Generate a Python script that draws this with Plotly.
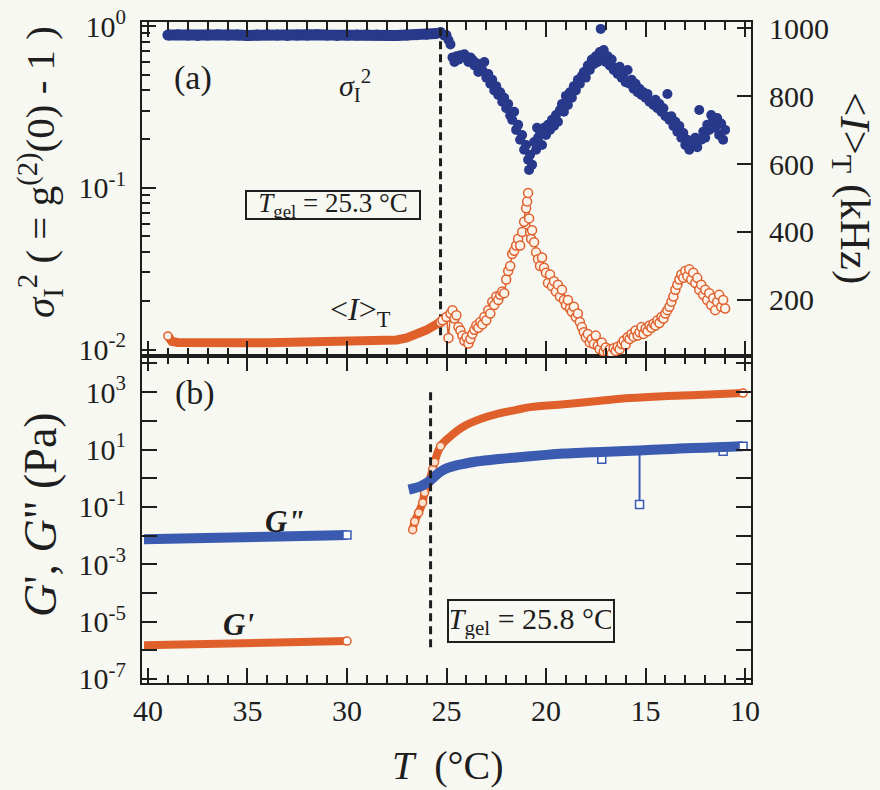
import plotly.graph_objects as go

# ---------------- data ----------------
# (a) sigma_I^2 (left log axis), below gel point: dense band
T_sig_pre = [39.0, 38.5, 38.0, 37.5, 37.0, 36.5, 36.0, 35.5, 35.0, 34.5, 34.0, 33.5, 33.0, 32.5,
             32.0, 31.5, 31.0, 30.5, 30.0, 29.5, 29.0, 28.5, 28.0, 27.5, 27.0, 26.5, 26.0, 25.5]
sig_pre = [0.88, 0.885, 0.88, 0.875, 0.88, 0.885, 0.88, 0.88, 0.875, 0.88, 0.885, 0.88, 0.875, 0.88,
           0.88, 0.885, 0.88, 0.875, 0.88, 0.88, 0.885, 0.88, 0.88, 0.875, 0.88, 0.885, 0.89, 0.90]

# (a) sigma_I^2 above gel point (scattered)
T_sig_post = [25.3, 25.2, 25.1, 25.0, 24.9, 24.8, 24.7, 24.6, 24.5, 24.4, 24.3, 24.2, 24.1, 24.0,
              23.9, 23.8, 23.7, 23.6, 23.5, 23.4, 23.3, 23.2, 23.1, 23.0, 22.9, 22.8, 22.7, 22.6,
              22.5, 22.4, 22.3, 22.2, 22.1, 22.0, 21.9, 21.8, 21.7, 21.6, 21.5, 21.4, 21.3, 21.2,
              21.1, 21.0, 20.9, 20.85, 20.8, 20.7, 20.6, 20.5, 20.45, 20.4, 20.3, 20.2, 20.1, 20.0,
              19.9, 19.8, 19.7, 19.6, 19.5, 19.4, 19.3, 19.2, 19.1, 19.0, 18.9, 18.8, 18.7, 18.6,
              18.5, 18.4, 18.3, 18.2, 18.1, 18.0, 17.9, 17.8, 17.7, 17.6, 17.5, 17.4, 17.3, 17.25,
              17.2, 17.1, 17.0, 16.9, 16.8, 16.7, 16.6, 16.5, 16.4, 16.3, 16.2, 16.1, 16.0, 15.9,
              15.8, 15.7, 15.6, 15.5, 15.4, 15.3, 15.2, 15.1, 15.0, 14.9, 14.8, 14.6, 14.5, 14.4,
              14.3, 14.2, 14.1, 14.0, 13.9, 13.8, 13.7, 13.6, 13.5, 13.4, 13.3, 13.2, 13.1, 13.0,
              12.9, 12.8, 12.7, 12.6, 12.5, 12.4, 12.3, 12.2, 12.1, 12.0, 11.9, 11.8, 11.7, 11.6,
              11.5, 11.4, 11.3, 11.2, 11.1, 11.0]
sig_post = [0.92, 0.89, 0.87, 0.88, 0.82, 0.77, 0.64, 0.60, 0.65, 0.62, 0.66, 0.64, 0.67, 0.64,
            0.60, 0.64, 0.62, 0.57, 0.59, 0.52, 0.57, 0.535, 0.60, 0.48, 0.505, 0.44, 0.465, 0.40,
            0.425, 0.375, 0.39, 0.34, 0.36, 0.31, 0.33, 0.28, 0.263, 0.295, 0.228, 0.245, 0.198, 0.212,
            0.172, 0.184, 0.149, 0.129, 0.160, 0.139, 0.192, 0.172, 0.235, 0.204, 0.222, 0.184, 0.235, 0.212,
            0.245, 0.228, 0.263, 0.241, 0.282, 0.256, 0.303, 0.33, 0.295, 0.37, 0.325, 0.39, 0.36, 0.425,
            0.40, 0.465, 0.44, 0.49, 0.52, 0.48, 0.57, 0.535, 0.62, 0.58, 0.65, 0.60, 0.69, 0.96,
            0.64, 0.71, 0.60, 0.65, 0.57, 0.62, 0.535, 0.55, 0.505, 0.56, 0.48, 0.505, 0.45, 0.535,
            0.44, 0.465, 0.41, 0.44, 0.39, 0.41, 0.375, 0.39, 0.36, 0.38, 0.34, 0.325, 0.35, 0.31,
            0.33, 0.295, 0.31, 0.277, 0.38, 0.263, 0.277, 0.241, 0.256, 0.222, 0.241, 0.204, 0.218, 0.184,
            0.198, 0.172, 0.192, 0.182, 0.204, 0.178, 0.303, 0.198, 0.222, 0.204, 0.245, 0.228, 0.282, 0.263,
            0.235, 0.27, 0.212, 0.25, 0.198, 0.228]

# (a) <I>_T in kHz (right axis)
T_I_pre = [39.0, 38.8, 38.5, 38.0, 37.0, 36.0, 35.0, 34.0, 33.0, 32.0, 31.0, 30.0, 29.0, 28.5,
           28.0, 27.5, 27.0, 26.5, 26.0, 25.6, 25.3]
I_pre = [94, 78, 75, 74, 74, 75, 74, 74, 75, 74, 75, 75, 76, 77,
         78, 82, 88, 98, 112, 125, 135]

T_I_post = [25.2, 25.0, 24.9, 24.8, 24.7, 24.6, 24.5, 24.4, 24.3, 24.2, 24.1, 24.0, 23.9, 23.8,
            23.7, 23.6, 23.5, 23.4, 23.3, 23.2, 23.1, 23.0, 22.9, 22.8, 22.7, 22.6, 22.5, 22.4,
            22.3, 22.2, 22.1, 22.0, 21.9, 21.8, 21.7, 21.6, 21.5, 21.4, 21.3, 21.2, 21.1, 21.0,
            20.95, 20.9, 20.85, 20.8, 20.75, 20.7, 20.6, 20.5, 20.4, 20.3, 20.2, 20.1, 20.0, 19.9,
            19.8, 19.7, 19.6, 19.5, 19.4, 19.3, 19.2, 19.1, 19.0, 18.9, 18.8, 18.7, 18.6, 18.5,
            18.4, 18.3, 18.2, 18.1, 18.0, 17.9, 17.8, 17.7, 17.6, 17.5, 17.4, 17.3, 17.2, 17.1,
            17.0, 16.9, 16.8, 16.7, 16.6, 16.5, 16.4, 16.3, 16.2, 16.1, 16.0, 15.9, 15.8, 15.7,
            15.6, 15.5, 15.4, 15.3, 15.2, 15.1, 15.0, 14.9, 14.8, 14.7, 14.6, 14.5, 14.4, 14.3,
            14.2, 14.1, 14.0, 13.9, 13.8, 13.7, 13.6, 13.5, 13.4, 13.3, 13.2, 13.1, 13.0, 12.9,
            12.8, 12.7, 12.6, 12.5, 12.4, 12.3, 12.2, 12.1, 12.0, 11.9, 11.8, 11.7, 11.6, 11.5,
            11.4, 11.3, 11.2, 11.1, 11.0]
I_post = [140, 150, 88, 160, 170, 145, 155, 120, 110, 95, 80, 90, 72, 85,
          100, 112, 125, 118, 135, 128, 150, 140, 170, 160, 195, 185, 210, 200,
          215, 225, 220, 260, 285, 300, 335, 345, 360, 380, 360, 400, 430, 470,
          490, 515, 440, 400, 380, 405, 370, 340, 320, 300, 325, 295, 280, 250,
          275, 240, 255, 225, 245, 210, 230, 200, 185, 200, 175, 165, 180, 150,
          160, 135, 120, 105, 90, 100, 75, 85, 70, 95, 65, 55, 75, 48,
          60, 45, 55, 42, 58, 50, 62, 55, 70, 80, 68, 90, 85, 100,
          92, 110, 95, 105, 120, 100, 115, 108, 125, 118, 130, 125, 140, 132,
          150, 145, 160, 170, 180, 195, 210, 230, 245, 260, 275, 265, 285, 270,
          290, 260, 280, 250, 265, 230, 245, 215, 230, 200, 220, 185, 205, 170,
          195, 215, 180, 200, 175]

# (b) moduli (Pa)
T_G_pre = [40.2, 39.0, 38.0, 37.0, 36.0, 35.0, 34.0, 33.0, 32.0, 31.0, 30.0]
Gpp_pre = [0.0075, 0.0076, 0.0077, 0.0078, 0.0080, 0.0081, 0.0082, 0.0085, 0.0095, 0.0100, 0.0105]
Gp_pre = [1.5e-6, 1.55e-6, 1.6e-6, 1.65e-6, 1.7e-6, 1.72e-6, 1.75e-6, 1.8e-6, 1.85e-6, 1.95e-6, 2.1e-6]

T_Gpp_post = [26.9, 26.6, 26.3, 26.0, 25.8, 25.6, 25.3, 25.0, 24.6, 24.2, 23.5, 22.5, 21.5, 20.8,
              20.0, 19.1, 18.0, 17.2, 16.0, 15.3, 14.0, 13.3, 12.0, 11.1, 10.1]
Gpp_post = [0.40, 0.45, 0.52, 0.68, 0.85, 1.15, 1.7, 2.2, 2.7, 3.1, 3.8, 4.6, 5.3, 5.8,
            6.5, 7.2, 7.8, 8.2, 8.9, 9.3, 10.2, 10.8, 11.6, 12.2, 13.0]
# G'' outlying points (temperature, outlier value, band value at that temperature)
T_Gpp_out = [17.2, 15.3, 11.1]
Gpp_out = [4.6, 0.12, 8.7]
Gpp_out_base = [8.2, 9.3, 12.2]

T_Gp_post = [26.7, 26.6, 26.4, 26.2, 26.1, 25.9, 25.7, 25.6, 25.3, 24.8, 24.2, 23.3, 22.5, 21.5,
             20.8, 19.1, 17.4, 15.8, 14.1, 12.4, 10.1]
Gp_post = [0.016, 0.031, 0.063, 0.14, 0.32, 0.70, 2.0, 3.6, 13, 29, 60, 115, 170, 240,
           300, 380, 490, 620, 720, 790, 930]

Tgel_a = 25.3
Tgel_a_span = [0.97, 0.0115]
Tgel_b = 25.8
Tgel_b_span = [1e3, 1e-6]

x_ticks = [40, 35, 30, 25, 20, 15, 10]
a_left_ticks = [1, 0.1, 0.01]
a_left_text = ["10<sup>0</sup>", "10<sup>-1</sup>", "10<sup>-2</sup>"]
a_right_ticks = [200, 400, 600, 800, 1000]
b_ticks = [1e4, 1e3, 1e2, 1e1, 1e0, 1e-1, 1e-2, 1e-3, 1e-4, 1e-5, 1e-6, 1e-7]
b_text = ["", "10<sup>3</sup>", "", "10<sup>1</sup>", "", "10<sup>-1</sup>", "",
          "10<sup>-3</sup>", "", "10<sup>-5</sup>", "", "10<sup>-7</sup>"]

# ---------------- style ----------------
NAVY = "#28388a"
BLUE = "#3a5bb0"
ORANGE = "#e0602c"
BG = "#f7f8f2"
INK = "#1e1e1e"
FONT = "Liberation Serif, Times New Roman, serif"

L, R, TOP, BOT = 142, 751, 22, 683
W, H = 880, 790
split = (BOT - 356) / (BOT - TOP)


def px(xp):
    return (xp - L) / (R - L)


def py(yp):
    return (BOT - yp) / (BOT - TOP)


fig = go.Figure()

# ---- panel (a) ----
fig.add_trace(go.Scatter(x=T_sig_pre, y=sig_pre, xaxis="x2", yaxis="y", mode="lines+markers",
                         line=dict(color=NAVY, width=11), marker=dict(color=NAVY, size=11),
                         showlegend=False))
fig.add_trace(go.Scatter(x=T_sig_post, y=sig_post, xaxis="x2", yaxis="y", mode="markers",
                         marker=dict(color=NAVY, size=10), showlegend=False))
fig.add_trace(go.Scatter(x=T_I_pre, y=I_pre, xaxis="x2", yaxis="y3", mode="lines",
                         line=dict(color=ORANGE, width=9), showlegend=False))
fig.add_trace(go.Scatter(x=T_I_pre[:1], y=I_pre[:1], xaxis="x2", yaxis="y3", mode="markers",
                         marker=dict(color="#fbf3ea", size=8, line=dict(color=ORANGE, width=1.5)),
                         showlegend=False))
fig.add_trace(go.Scatter(x=T_I_pre[-1:] + T_I_post, y=I_pre[-1:] + I_post, xaxis="x2", yaxis="y3",
                         mode="lines+markers", line=dict(color=ORANGE, width=1.5),
                         marker=dict(color="#fbf3ea", size=9, line=dict(color=ORANGE, width=1.5)),
                         showlegend=False))
fig.add_trace(go.Scatter(x=[Tgel_a, Tgel_a], y=Tgel_a_span, xaxis="x2", yaxis="y", mode="lines",
                         line=dict(color=INK, width=3, dash="8px,5px"), showlegend=False))

# ---- panel (b) ----
fig.add_trace(go.Scatter(x=T_G_pre, y=Gpp_pre, xaxis="x", yaxis="y2", mode="lines",
                         line=dict(color=BLUE, width=10), showlegend=False))
fig.add_trace(go.Scatter(x=T_G_pre[-1:], y=Gpp_pre[-1:], xaxis="x", yaxis="y2", mode="markers",
                         marker=dict(symbol="square", color="white", size=8, line=dict(color=BLUE, width=1.5)),
                         showlegend=False))
fig.add_trace(go.Scatter(x=T_G_pre, y=Gp_pre, xaxis="x", yaxis="y2", mode="lines",
                         line=dict(color=ORANGE, width=8), showlegend=False))
fig.add_trace(go.Scatter(x=T_G_pre[-1:], y=Gp_pre[-1:], xaxis="x", yaxis="y2", mode="markers",
                         marker=dict(color="white", size=8, line=dict(color=ORANGE, width=1.5)),
                         showlegend=False))

for t, v, b in zip(T_Gpp_out, Gpp_out, Gpp_out_base):
    fig.add_trace(go.Scatter(x=[t, t], y=[b, v], xaxis="x", yaxis="y2", mode="lines",
                             line=dict(color=BLUE, width=2), showlegend=False))
fig.add_trace(go.Scatter(x=T_Gpp_out, y=Gpp_out, xaxis="x", yaxis="y2", mode="markers",
                         marker=dict(symbol="square", color="white", size=8, line=dict(color=BLUE, width=1.5)),
                         showlegend=False))

fig.add_trace(go.Scatter(x=T_Gp_post, y=Gp_post, xaxis="x", yaxis="y2", mode="lines",
                         line=dict(color=ORANGE, width=8, shape="spline"), showlegend=False))
fig.add_trace(go.Scatter(x=T_Gp_post[:9], y=Gp_post[:9], xaxis="x", yaxis="y2", mode="markers",
                         marker=dict(color="#fbe3cf", size=8, line=dict(color=ORANGE, width=1.5)),
                         showlegend=False))
fig.add_trace(go.Scatter(x=T_Gp_post[-1:], y=Gp_post[-1:], xaxis="x", yaxis="y2", mode="markers",
                         marker=dict(color="white", size=8, line=dict(color=ORANGE, width=1.5)),
                         showlegend=False))
fig.add_trace(go.Scatter(x=T_Gpp_post, y=Gpp_post, xaxis="x", yaxis="y2", mode="lines",
                         line=dict(color=BLUE, width=10, shape="spline"), showlegend=False))
fig.add_trace(go.Scatter(x=T_Gpp_post[-1:], y=Gpp_post[-1:], xaxis="x", yaxis="y2", mode="markers",
                         marker=dict(symbol="square", color="white", size=8, line=dict(color=BLUE, width=1.5)),
                         showlegend=False))
fig.add_trace(go.Scatter(x=[Tgel_b, Tgel_b], y=Tgel_b_span, xaxis="x", yaxis="y2", mode="lines",
                         line=dict(color=INK, width=3, dash="8px,5px"), showlegend=False))

# ---------------- axes ----------------
axis_common = dict(showline=True, linecolor=INK, linewidth=2, showgrid=False, zeroline=False,
                   tickcolor=INK, tickwidth=2, ticks="inside", automargin=False,
                   tickfont=dict(family=FONT, size=30, color=INK))
minor_x = dict(ticks="inside", dtick=1, ticklen=8, tickcolor=INK, tickwidth=1.5, showgrid=False)

a_minor = [m * 10 ** e for e in (-3, -2, -1) for m in range(2, 10)]

fig.update_layout(
    width=W, height=H, autosize=False,
    margin=dict(l=L, r=W - R, t=TOP, b=H - BOT),
    paper_bgcolor=BG, plot_bgcolor=BG,
    font=dict(family=FONT, color=INK),
    xaxis=dict(axis_common, domain=[0, 1], anchor="y2", range=[40.3, 9.7], tickvals=x_ticks,
               ticklen=15, mirror="ticks", minor=minor_x, ticklabelstandoff=0),
    xaxis2=dict(axis_common, domain=[0, 1], anchor="y", matches="x", range=[40.3, 9.7],
                tickvals=x_ticks, ticklen=15, mirror="ticks", minor=minor_x, showticklabels=False),
    yaxis=dict(axis_common, domain=[split, 1], anchor="x2", type="log", range=[-2.04, 0.025],
               tickvals=a_left_ticks, ticktext=a_left_text, ticklen=14, ticklabelstandoff=8,
               minor=dict(ticks="inside", tickvals=a_minor, ticklen=8, tickcolor=INK, tickwidth=1.5,
                          showgrid=False)),
    yaxis3=dict(axis_common, overlaying="y", anchor="x2", side="right", range=[35, 1018],
                tickvals=a_right_ticks, ticklen=14, ticklabelstandoff=10),
    yaxis2=dict(axis_common, domain=[0, split], anchor="x", type="log", range=[-7.14, 4.26],
                tickvals=b_ticks, ticktext=b_text, ticklen=15, mirror="ticks", ticklabelstandoff=8),
)

# ---------------- annotations ----------------
def ann(text, xp, yp, size, angle=0, box=False, pad=2, bw=None, bh=None):
    d = dict(text=text, x=px(xp), y=py(yp), xref="paper", yref="paper", showarrow=False,
             textangle=angle, font=dict(family=FONT, size=size, color=INK),
             xanchor="center", yanchor="middle")
    if box:
        d.update(bordercolor=INK, borderwidth=2, borderpad=pad, width=bw, height=bh)
    fig.add_annotation(**d)


ann("(a)", 193, 78, 34)
ann("<i>σ</i><sub>I</sub><sup>2</sup>", 355, 85, 30)
ann("<i>T</i><sub>gel</sub> = 25.3 °C", 333, 205, 27, box=True, pad=0, bw=172, bh=26)
ann("&lt;<i>I</i>&gt;<sub>T</sub>", 360, 311, 32)
ann("(b)", 195, 393, 34)
ann("<b><i>G\"</i></b>", 285, 521, 31)
ann("<b><i>G'</i></b>", 238, 624, 31)
ann("<i>T</i><sub>gel</sub> = 25.8 °C", 531, 621, 30, box=True, pad=2, bw=160, bh=36)

ann("<i>T</i>  (°C)", 448, 765, 40)
ann("<i>σ</i><sub>I</sub><sup>2</sup> ( = g<sup>(2)</sup>(0) - 1 )", 40, 172, 41, angle=-90)
ann("<i>G</i>', <i>G</i>\" (Pa)", 40, 515, 46, angle=-90)
ann("&lt;<i>I</i>&gt;<sub>T</sub> (kHz)", 852, 188, 43, angle=90)

fig.write_html("out.html", config={"displayModeBar": False},
               post_script="document.body.style.margin='0px';"
                           "document.body.style.background='" + BG + "';")
